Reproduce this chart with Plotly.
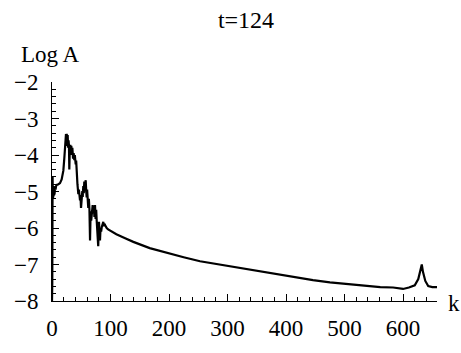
import plotly.graph_objects as go

# Wavenumber k and log amplitude
k_early = [0, 0.5, 1, 1.5, 2, 2.5, 3, 3.5, 4, 4.5, 5, 6, 7, 8, 11, 13.7, 16.5, 19.4, 21, 22.2, 22.7,
           23.2, 23.9, 24.5, 25.2, 26, 26.8, 27.5, 28.3, 29, 29.6, 30.3, 31.3, 32, 33, 34, 34.8,
           36, 37, 38.2, 39, 40.5, 41.3, 42.2, 43.5, 45, 46, 47.9, 48.7, 49.6, 50.5, 51.8, 52.5,
           53.5, 54.3, 55.2, 56, 56.8, 57.6, 58.5, 59.3, 60, 61, 62, 63, 64, 65, 66, 67, 67.8,
           68.6, 69.5, 70.5, 71.5, 72.5, 73.5, 74.5, 75.5, 76.4, 77.2, 78, 79, 80.3, 81, 82, 83,
           84, 85, 86, 87.7, 88.5, 89.5, 90.6, 92, 93.5, 96, 99, 102]
logA_early = [-8.0, -7.5, -4.6, -5.2, -4.9, -5.1, -4.85, -5.1, -4.9, -5.05, -4.9, -4.95, -4.85,
              -4.82, -4.8, -4.77, -4.67, -4.43, -4.1, -3.72, -3.9, -3.5, -3.43, -3.7, -3.42,
              -3.75, -3.45, -3.8, -3.6, -3.75, -4.40, -3.9, -3.72, -3.95, -3.75, -4.0, -3.8,
              -4.1, -3.95, -4.14, -4.0, -4.26, -4.15, -4.65, -4.8, -5.07, -4.95, -5.24, -5.1,
              -5.45, -5.2, -4.99, -5.15, -4.85, -5.05, -4.73, -5.0, -4.75, -4.69, -5.0, -5.16,
              -4.95, -5.3, -5.45, -5.2, -5.5, -6.34, -5.54, -5.8, -5.66, -5.4, -5.37, -5.6,
              -5.4, -5.7, -5.37, -5.75, -5.5, -5.8, -6.1, -6.34, -6.5, -5.83, -6.1, -6.34,
              -6.0, -6.1, -5.98, -5.9, -5.83, -5.95, -5.88, -5.92, -5.97, -6.0, -6.04, -6.07,
              -6.1]
k_tail = [110, 125, 139, 167, 196, 225, 253, 282, 310, 338, 367, 395, 424, 446, 475, 504, 532,
          561, 583, 600, 610, 620, 626, 630, 632, 634, 638, 643, 650, 658]
logA_tail = [-6.17, -6.28, -6.38, -6.55, -6.68, -6.80, -6.91, -6.99, -7.06, -7.14, -7.22, -7.30,
             -7.37, -7.43, -7.49, -7.54, -7.58, -7.62, -7.63, -7.67, -7.63, -7.57, -7.4, -7.15,
             -7.0, -7.2, -7.45, -7.59, -7.62, -7.62]

k = k_early + k_tail
logA = logA_early + logA_tail

title_text = "t=124"
y_label = "Log A"
x_label = "k"

FONT = "Liberation Serif"
FS = 23

fig = go.Figure()
fig.add_trace(go.Scatter(x=k, y=logA, mode="lines",
                         line=dict(color="black", width=2.2), showlegend=False))

axis_common = dict(showgrid=False, zeroline=False, showline=True, linecolor="black",
                   linewidth=1, ticks="inside", ticklen=7, tickwidth=1, tickcolor="black",
                   mirror=False, tickfont=dict(family=FONT, size=FS, color="black"))

fig.update_xaxes(range=[0, 658], tickmode="linear", tick0=0, dtick=100,
                 minor=dict(dtick=20, ticks="inside", ticklen=4, tickcolor="black"),
                 ticklabelstandoff=6, **axis_common)
fig.update_yaxes(range=[-8, -2], tickmode="linear", tick0=-8, dtick=1,
                 minor=dict(dtick=0.2, ticks="inside", ticklen=4, tickcolor="black"),
                 ticklabelstandoff=8, **axis_common)

fig.update_layout(
    width=461, height=353,
    margin=dict(l=52, r=24, t=82, b=34),
    plot_bgcolor="white", paper_bgcolor="white",
    title=dict(text=title_text, x=246 / 461, xref="container", xanchor="center",
               y=1 - 20 / 353, yref="container", yanchor="middle",
               font=dict(family=FONT, size=24, color="black")),
    annotations=[
        dict(text=y_label, xref="paper", yref="paper", x=-0.005, y=1.127,
             xanchor="center", yanchor="middle", showarrow=False,
             font=dict(family=FONT, size=FS, color="black")),
        dict(text=x_label, xref="paper", yref="paper", x=1.024, y=-0.012,
             xanchor="left", yanchor="middle", showarrow=False,
             font=dict(family=FONT, size=FS, color="black")),
    ],
)

fig.write_html("out.html")
